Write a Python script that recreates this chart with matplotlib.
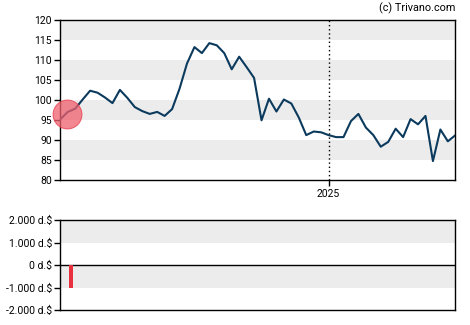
import numpy as np
import pandas as pd
import matplotlib
matplotlib.use('Agg')
import matplotlib.pyplot as plt
import matplotlib.dates as mdates

plt.rcParams['font.family'] = ['Roboto', 'DejaVu Sans']

# weekly closing prices
dates = pd.date_range('2024-04-24', periods=54, freq='7D')
prices = [95.25, 97.1, 97.9, 100.2, 102.4, 101.9, 100.7, 99.3, 102.6, 100.6,
          98.3, 97.3, 96.6, 97.1, 96.1, 97.8, 102.9, 109.2, 113.3, 111.8,
          114.3, 113.75, 111.8, 107.75, 110.9, 108.3, 105.6, 95.0, 100.4, 97.2,
          100.2, 99.2, 95.7, 91.3, 92.2, 92.0, 91.3, 90.8, 90.8, 94.8,
          96.6, 93.2, 91.3, 88.4, 89.6, 92.9, 90.8, 95.3, 94.0, 96.1,
          84.8, 92.7, 89.75, 91.25]

# insider trade marker / bar
trade_date = pd.Timestamp('2024-05-04')
trade_value = -1000
marker_date = pd.Timestamp('2024-04-30')
marker_price = 96.7

year_line = pd.Timestamp('2025-01-01')

price_ticks = [80, 85, 90, 95, 100, 105, 110, 115, 120]
vol_ticks = [-2000, -1000, 0, 1000, 2000]
vol_labels = ['-2.000 d.$', '-1.000 d.$', '0 d.$', '1.000 d.$', '2.000 d.$']

fig = plt.figure(figsize=(4.7, 3.25), dpi=100)
ax = fig.add_axes([0.1283, 0.4452, 0.8404, 0.4923])
ax2 = fig.add_axes([0.1283, 0.0462, 0.8404, 0.276])

band = '#ececec'
for lo in [85, 95, 105, 115]:
    ax.axhspan(lo, lo + 5, color=band, lw=0, zorder=0)
ax.plot(dates, prices, color='#0b3a5d', lw=1.5, zorder=3)
ax.scatter([marker_date], [marker_price], s=430, color='#f0606e', alpha=0.75,
           edgecolors='#e8404f', linewidths=0.8, zorder=4, clip_on=False)
ax.axvline(year_line, color='black', ls=(0, (1, 2)), lw=1, zorder=2)
ax.set_xlim(dates[0], dates[-1])
ax.set_ylim(80, 120)
ax.set_yticks(price_ticks)
ax.set_xticks([year_line])
ax.xaxis.set_major_formatter(mdates.DateFormatter('%Y'))

for lo in [-1000, 1000]:
    ax2.axhspan(lo, lo + 1000, color=band, lw=0, zorder=0)
ax2.bar([trade_date], [trade_value], width=4.4, color='#e8303f', zorder=3)
ax2.axhline(0, color='black', lw=1, zorder=2)
ax2.set_xlim(dates[0], dates[-1])
ax2.set_ylim(-2000, 2000)
ax2.set_yticks(vol_ticks)
ax2.set_yticklabels(vol_labels)
ax2.set_xticks([])

for a in (ax, ax2):
    for s in a.spines.values():
        s.set_color('black')
        s.set_linewidth(1)
    a.tick_params(direction='out', length=4, width=1, labelsize=7.5, pad=2)

fig.text(0.9687, 0.975, '(c) Trivano.com', ha='right', va='center', fontsize=7.8)

fig.savefig('out.png', dpi=100)
